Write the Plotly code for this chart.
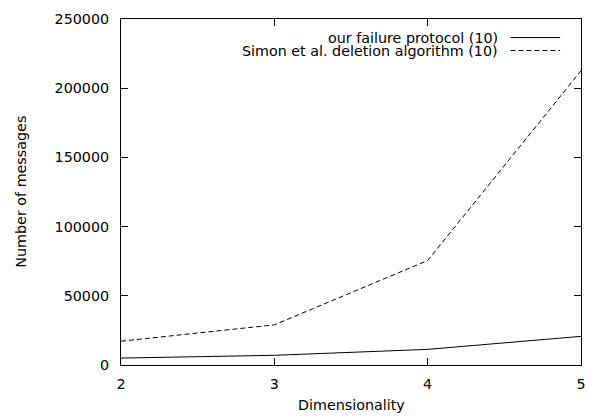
import plotly.graph_objects as go

dims = [2, 3, 4, 5]
ours = [5000, 7000, 11300, 20700]
simon = [17200, 29000, 75500, 212600]
names = ["our failure protocol (10)", "Simon et al. deletion algorithm (10)"]
x_ticks = [2, 3, 4, 5]
y_ticks = [0, 50000, 100000, 150000, 200000, 250000]

W, H = 597, 417
L, R, T, B = 121, 13, 11, 52
pw, ph = W - L - R, H - T - B
FONT = dict(family="DejaVu Sans", size=14.3, color="black")

def px2x(px):
    return (px - L) / pw

def px2y(py):
    return (H - B - py) / ph

fig = go.Figure()
fig.add_trace(go.Scatter(x=dims, y=ours, mode="lines", name=names[0],
                         line=dict(color="black", width=1), showlegend=False))
fig.add_trace(go.Scatter(x=dims, y=simon, mode="lines", name=names[1],
                         line=dict(color="black", width=1, dash="5px,3px"), showlegend=False))

# manual gnuplot-style key
rows = [(30, "solid"), (43.3, "5px,3px")]
shapes = []
annotations = []
for (yy, dash), nm in zip(rows, names):
    annotations.append(dict(x=px2x(502), y=px2y(yy), xref="paper", yref="paper",
                            text=nm, showarrow=False, xanchor="right", yanchor="middle",
                            font=FONT))
    shapes.append(dict(type="line", xref="paper", yref="paper",
                       x0=px2x(513), x1=px2x(563), y0=px2y(yy), y1=px2y(yy),
                       line=dict(color="black", width=1, dash=dash)))

annotations.append(dict(x=px2x(20), y=0.5, xref="paper", yref="paper",
                        text="Number of messages", textangle=-90, showarrow=False,
                        xanchor="center", yanchor="middle", font=FONT))
annotations.append(dict(x=0.5, y=px2y(406), xref="paper", yref="paper",
                        text="Dimensionality", showarrow=False,
                        xanchor="center", yanchor="middle", font=FONT))

axis_common = dict(showline=True, linecolor="black", linewidth=1, mirror="allticks",
                   ticks="inside", ticklen=7, tickwidth=1, tickcolor="black",
                   showgrid=False, zeroline=False, tickfont=FONT)
fig.update_layout(
    width=W, height=H,
    margin=dict(l=L, r=R, t=T, b=B, pad=0),
    paper_bgcolor="white", plot_bgcolor="white",
    xaxis=dict(range=[2, 5], tickvals=x_ticks, ticktext=[str(v) for v in x_ticks],
               ticklabelstandoff=6, **axis_common),
    yaxis=dict(range=[0, 250000], tickvals=y_ticks, ticktext=[str(v) for v in y_ticks],
               ticklabelstandoff=8, **axis_common),
    shapes=shapes, annotations=annotations, showlegend=False,
)
fig.write_html("out.html")
